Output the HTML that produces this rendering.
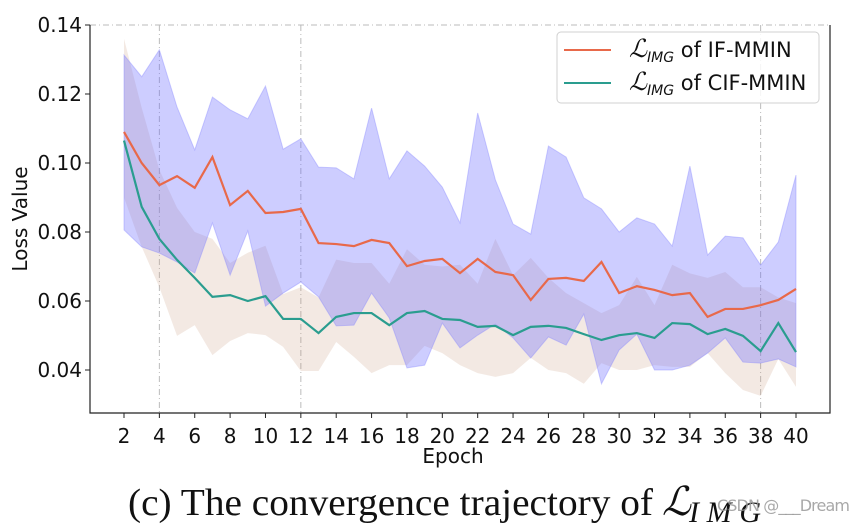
<!DOCTYPE html>
<html><head><meta charset="utf-8">
<style>
body{margin:0;background:#fff;}
svg{display:block;font-family:"DejaVu Sans","Liberation Sans",sans-serif;}
</style></head>
<body>
<svg id="chart" width="855" height="529" viewBox="0 0 855 529">
<g id="grid"></g>
<g id="bands"></g>
<g id="lines"></g>
<g id="axes"></g>
<g>
<rect x="557" y="32" width="262" height="71" rx="4" fill="#fff" fill-opacity="0.85" stroke="#d0d0d0"/>
<line x1="564" y1="50" x2="611" y2="50" stroke="#e8694a" stroke-width="2"/>
<text x="629" y="57" font-size="21" fill="#111"><tspan font-family="Liberation Serif,serif" font-style="italic" font-size="25">ℒ</tspan><tspan font-size="14" font-style="italic" dy="5">IMG</tspan><tspan dy="-5"> of IF-MMIN</tspan></text>
<line x1="564" y1="83" x2="611" y2="83" stroke="#2a9d8f" stroke-width="2"/>
<text x="629" y="90" font-size="21" fill="#111"><tspan font-family="Liberation Serif,serif" font-style="italic" font-size="25">ℒ</tspan><tspan font-size="14" font-style="italic" dy="5">IMG</tspan><tspan dy="-5"> of CIF-MMIN</tspan></text>
</g>
<text x="453" y="463" font-size="20" text-anchor="middle" fill="#111">Epoch</text>
<text transform="translate(27,219) rotate(-90)" font-size="20" text-anchor="middle" fill="#111">Loss Value</text>
<text x="128" y="515" font-size="38" font-family="Liberation Serif,serif" fill="#111" textLength="525" lengthAdjust="spacingAndGlyphs">(c) The convergence trajectory of</text>
<text x="662" y="515" font-size="40" font-family="Liberation Serif,serif" font-style="italic" fill="#111">ℒ</text>
<text x="689" y="522" font-size="30" font-family="Liberation Serif,serif" font-style="italic" fill="#111" textLength="72" lengthAdjust="spacing">IMG</text>
<text x="717" y="511" font-size="16" fill="#999" fill-opacity="0.85" textLength="133">CSDN @___Dream</text>
</svg>
<script>
const epochs=[2,3,4,5,6,7,8,9,10,11,12,13,14,15,16,17,18,19,20,21,22,23,24,25,26,27,28,29,30,31,32,33,34,35,36,37,38,39,40];
const ifMean=[0.109,0.100,0.0936,0.0962,0.0928,0.1017,0.0878,0.0919,0.0855,0.0858,0.0867,0.0768,0.0765,0.0759,0.0777,0.0768,0.0701,0.0716,0.0722,0.0681,0.0722,0.0684,0.0675,0.0603,0.0664,0.0667,0.0658,0.0713,0.0623,0.0643,0.0632,0.0617,0.0623,0.0554,0.0577,0.0577,0.0588,0.0603,0.0635];
const cifMean=[0.1065,0.0873,0.078,0.0719,0.0667,0.0612,0.0617,0.060,0.0614,0.0548,0.0548,0.0507,0.0554,0.0565,0.0565,0.053,0.0565,0.0571,0.0548,0.0545,0.0525,0.0528,0.0501,0.0525,0.0528,0.0522,0.0504,0.0487,0.0501,0.0507,0.0493,0.0536,0.0533,0.0504,0.0519,0.0499,0.0455,0.0536,0.0452];
const ifUpper=[0.1313,0.125,0.1328,0.1162,0.1038,0.1191,0.1154,0.1128,0.1223,0.104,0.107,0.0988,0.0986,0.0954,0.1159,0.0954,0.1035,0.0991,0.093,0.0826,0.1145,0.0951,0.0823,0.0794,0.1049,0.1017,0.0899,0.0867,0.080,0.0841,0.0823,0.0759,0.0991,0.0733,0.0788,0.0783,0.0704,0.0771,0.0965];
const ifLower=[0.0806,0.0757,0.0739,0.0713,0.0681,0.0826,0.0675,0.0803,0.0585,0.0623,0.0655,0.0612,0.0528,0.053,0.0623,0.0551,0.0406,0.0414,0.0536,0.0464,0.0501,0.0533,0.0493,0.0435,0.0496,0.0472,0.0562,0.036,0.0458,0.0504,0.040,0.040,0.0414,0.0449,0.0493,0.0423,0.042,0.0432,0.0409];
const cifUpper=[0.136,0.116,0.098,0.087,0.080,0.078,0.071,0.074,0.076,0.062,0.064,0.061,0.072,0.071,0.071,0.065,0.075,0.0705,0.070,0.0705,0.065,0.078,0.0675,0.0725,0.0667,0.0623,0.0594,0.0565,0.0588,0.067,0.0588,0.0705,0.068,0.0667,0.0684,0.064,0.064,0.061,0.0594];
const cifLower=[0.090,0.0757,0.064,0.0499,0.053,0.0443,0.0484,0.0507,0.0501,0.0467,0.0397,0.0397,0.0481,0.0438,0.0391,0.0414,0.0414,0.047,0.0449,0.0414,0.0391,0.038,0.0391,0.0435,0.040,0.0391,0.036,0.042,0.040,0.040,0.0414,0.0409,0.0409,0.0449,0.0391,0.0342,0.0325,0.0432,0.0351];
const xTicks=[2,4,6,8,10,12,14,16,18,20,22,24,26,28,30,32,34,36,38,40];
const yTicks=[0.04,0.06,0.08,0.10,0.12,0.14];
const yTickLabels=["0.04","0.06","0.08","0.10","0.12","0.14"];
const gridEpochs=[4,12,38];

const NS="http://www.w3.org/2000/svg";
const L=90,R=830,B=413;
function xs(e){return 124+(e-2)*(672/38);}
function ys(v){return 25+(0.14-v)*3450;}
function mk(tag,attrs,parent){const el=document.createElementNS(NS,tag);for(const k in attrs)el.setAttribute(k,attrs[k]);parent.appendChild(el);return el;}
const grid=document.getElementById('grid'),bands=document.getElementById('bands'),lines=document.getElementById('lines'),axes=document.getElementById('axes');
gridEpochs.forEach(e=>{const g=mk('line',{x1:xs(e),x2:xs(e),y1:ys(0.14),y2:B,stroke:'#bbb','stroke-dasharray':'6 3 1 3','stroke-width':1},grid);

});
const hg=mk('line',{x1:L,x2:R,y1:ys(0.14),y2:ys(0.14),stroke:'#bbb','stroke-dasharray':'6 3 1 3'},grid);


function band(up,lo,fill,op,stroke,name){let d='';epochs.forEach((e,i)=>{d+=(i?'L':'M')+xs(e)+','+ys(up[i]);});for(let i=epochs.length-1;i>=0;i--)d+='L'+xs(epochs[i])+','+ys(lo[i]);d+='Z';
const p=mk('path',{d:d,fill:fill,'fill-opacity':op,stroke:stroke,'stroke-opacity':0.4,'stroke-width':1},bands);

}
band(cifUpper,cifLower,'#c99a80',0.22,'none','band-cif');
band(ifUpper,ifLower,'#6666ff',0.33,'#8888ff','band-if');
function line(vals,color,name){const pts=epochs.map((e,i)=>xs(e)+','+ys(vals[i])).join(' ');
const p=mk('polyline',{points:pts,fill:'none',stroke:color,'stroke-width':2.2},lines);

}
line(ifMean,'#e8694a','line-if-mmin');
line(cifMean,'#2a9d8f','line-cif-mmin');
const ax=mk('path',{d:`M${L},${ys(0.14)}L${L},${B}L${R},${B}L${R},${ys(0.14)}`,fill:'none',stroke:'#222','stroke-width':1.2},axes);


xTicks.forEach(e=>{mk('line',{x1:xs(e),x2:xs(e),y1:B,y2:B+5,stroke:'#222'},axes);
const t=mk('text',{x:xs(e),y:B+30,'font-size':20,'text-anchor':'middle',fill:'#111'},axes);t.textContent=e;

});
yTicks.forEach((v,i)=>{mk('line',{x1:L-5,x2:L,y1:ys(v),y2:ys(v),stroke:'#222'},axes);
const t=mk('text',{x:L-8,y:ys(v)+7,'font-size':20,'text-anchor':'end',fill:'#111'},axes);t.textContent=yTickLabels[i];

});
</script>
</body></html>
